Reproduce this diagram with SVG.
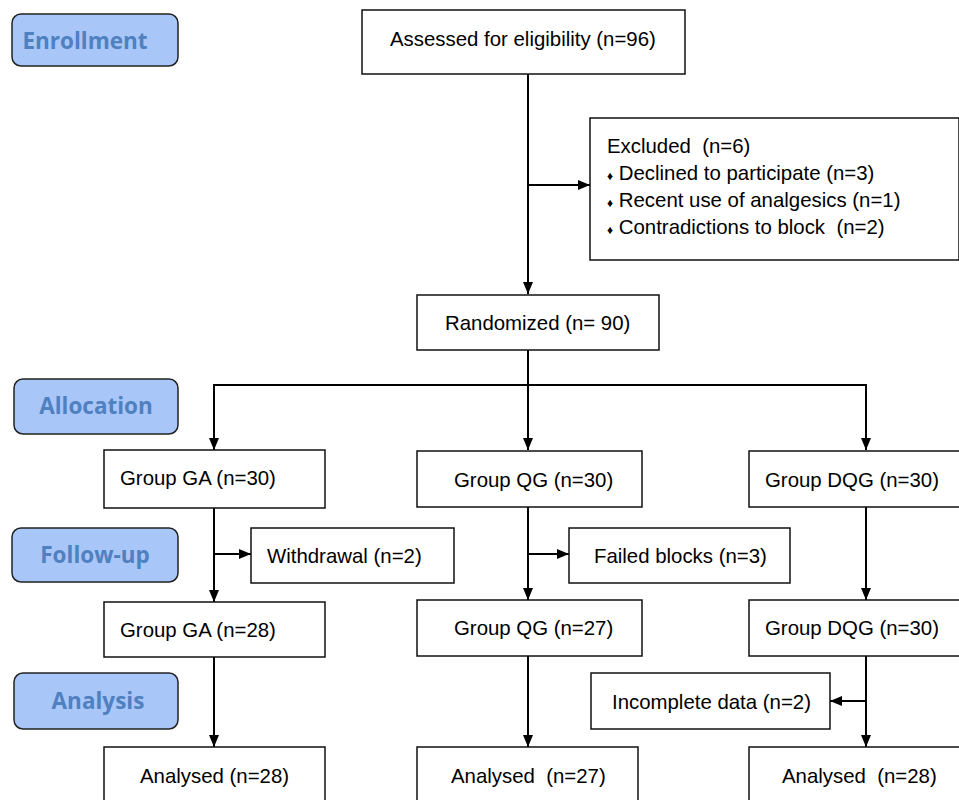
<svg xmlns="http://www.w3.org/2000/svg" width="959" height="800" viewBox="0 0 959 800">
<style>
.lab rect{fill:#a9c6f9;stroke:#222;stroke-width:1.5}
.lab text{font-family:"Open Sans","Liberation Sans",sans-serif;font-weight:bold;font-size:22.5px;fill:#4f80bf;text-anchor:middle}
.n rect{fill:#fff;stroke:#111;stroke-width:1.5}
.n text{font-family:"Liberation Sans",Arial,sans-serif;font-size:20.4px;fill:#000}
.c line,.c polyline{stroke:#000;stroke-width:2;fill:none}
</style>
<defs>
<marker id="a" viewBox="0 0 12 12" refX="12" refY="6" markerWidth="12" markerHeight="12" markerUnits="userSpaceOnUse" orient="auto"><path d="M0,1L12,6L0,11z" fill="#000"/></marker>
</defs>
<rect width="959" height="800" fill="#fff"/>
<g id="lab-enrollment" class="lab"><rect x="12" y="14" width="166" height="52" rx="9"/><text x="85" y="49">Enrollment</text></g>
<g id="lab-allocation" class="lab"><rect x="14" y="379" width="164" height="55" rx="9"/><text x="96" y="414">Allocation</text></g>
<g id="lab-followup" class="lab"><rect x="12" y="528" width="166" height="54" rx="9"/><text x="95" y="563">Follow-up</text></g>
<g id="lab-analysis" class="lab"><rect x="14" y="673" width="164" height="56" rx="9"/><text x="98" y="709">Analysis</text></g>

<g class="c" id="connectors">
<line x1="528" y1="74" x2="528" y2="294" marker-end="url(#a)"/>
<line x1="528" y1="185" x2="590" y2="185" marker-end="url(#a)"/>
<line x1="528" y1="350" x2="528" y2="385"/>
<polyline points="214,450 214,385 866,385 866,450" marker-end="url(#a)"/>
<line x1="214" y1="385" x2="214" y2="450" marker-end="url(#a)"/>
<line x1="528" y1="385" x2="528" y2="450" marker-end="url(#a)"/>
<line x1="214" y1="508" x2="214" y2="602" marker-end="url(#a)"/>
<line x1="214" y1="554" x2="251" y2="554" marker-end="url(#a)"/>
<line x1="528" y1="507" x2="528" y2="600" marker-end="url(#a)"/>
<line x1="528" y1="554" x2="569" y2="554" marker-end="url(#a)"/>
<line x1="866" y1="507" x2="866" y2="600" marker-end="url(#a)"/>
<line x1="214" y1="657" x2="214" y2="747" marker-end="url(#a)"/>
<line x1="528" y1="656" x2="528" y2="747" marker-end="url(#a)"/>
<line x1="866" y1="656" x2="866" y2="747" marker-end="url(#a)"/>
<line x1="866" y1="701" x2="830" y2="701" marker-end="url(#a)"/>
</g>

<g id="n-assessed" class="n"><rect x="362" y="10" width="323" height="64"/><text x="390" y="46">Assessed for eligibility (n=96)</text></g>
<g id="n-excluded" class="n"><rect x="590" y="118" width="369" height="142"/>
<text x="607" y="153">Excluded &#160;(n=6)</text>
<text x="607" y="180"><tspan font-size="12">♦</tspan> Declined to participate (n=3)</text>
<text x="607" y="207"><tspan font-size="12">♦</tspan> Recent use of analgesics (n=1)</text>
<text x="607" y="234"><tspan font-size="12">♦</tspan> Contradictions to block &#160;(n=2)</text>
</g>
<g id="n-randomized" class="n"><rect x="417" y="295" width="242" height="55"/><text x="445" y="330">Randomized (n= 90)</text></g>
<g id="n-ga30" class="n"><rect x="104" y="450" width="221" height="58"/><text x="120" y="485">Group GA (n=30)</text></g>
<g id="n-qg30" class="n"><rect x="417" y="451" width="225" height="56"/><text x="454" y="487">Group QG (n=30)</text></g>
<g id="n-dqg30" class="n"><rect x="749" y="451" width="212" height="56"/><text x="765" y="487">Group DQG (n=30)</text></g>
<g id="n-withdrawal" class="n"><rect x="251" y="528" width="203" height="55"/><text x="267" y="563">Withdrawal (n=2)</text></g>
<g id="n-failed" class="n"><rect x="569" y="528" width="221" height="55"/><text x="594" y="563">Failed blocks (n=3)</text></g>
<g id="n-ga28" class="n"><rect x="104" y="602" width="221" height="55"/><text x="120" y="637">Group GA (n=28)</text></g>
<g id="n-qg27" class="n"><rect x="417" y="600" width="225" height="56"/><text x="454" y="635">Group QG (n=27)</text></g>
<g id="n-dqg30b" class="n"><rect x="749" y="600" width="212" height="56"/><text x="765" y="635">Group DQG (n=30)</text></g>
<g id="n-incomplete" class="n"><rect x="591" y="673" width="239" height="56"/><text x="612" y="709">Incomplete data (n=2)</text></g>
<g id="n-an-ga" class="n"><rect x="104" y="747" width="221" height="60"/><text x="140" y="783">Analysed (n=28)</text></g>
<g id="n-an-qg" class="n"><rect x="417" y="747" width="221" height="60"/><text x="451" y="783">Analysed &#160;(n=27)</text></g>
<g id="n-an-dqg" class="n"><rect x="749" y="747" width="212" height="60"/><text x="782" y="783">Analysed &#160;(n=28)</text></g>
</svg>
